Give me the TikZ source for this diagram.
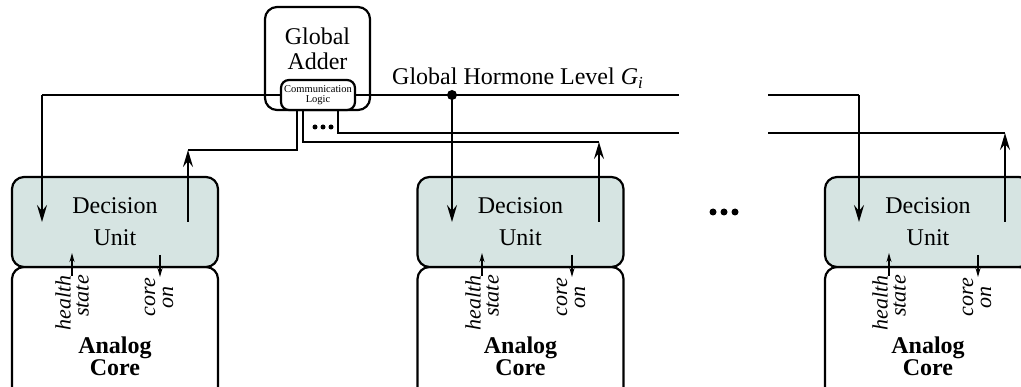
\documentclass[tikz,border=0pt]{standalone}
\usepackage{fontspec}
\setmainfont{Liberation Serif}
\usetikzlibrary{arrows.meta}
\definecolor{unitfill}{RGB}{214,228,226}
\begin{document}
\begin{tikzpicture}[x=1pt,y=-1pt,
  wire/.style={line width=2.2pt},
  feed/.style={line width=2.2pt,-{Stealth[length=17pt,width=10pt,inset=6pt]}},
  sig/.style={line width=1.5pt,-{Stealth[length=9pt,width=5pt,inset=3pt]}},
  unitbox/.style={draw,line width=2.2pt,fill=unitfill,rounded corners=12pt,
    minimum width=206pt,minimum height=90pt,inner sep=0pt,align=center,
    font=\fontsize{24}{32}\selectfont},
  corebox/.style={draw,line width=2.2pt,fill=white,rounded corners=12pt,
    minimum width=206pt,minimum height=150pt,inner sep=0pt},
  corelabel/.style={inner sep=0pt,align=center,font=\bfseries\fontsize{24}{22}\selectfont},
  portlabel/.style={inner sep=0pt,rotate=90,anchor=east,font=\itshape\fontsize{22}{18}\selectfont},
  bigdot/.style={circle,fill=black,inner sep=0pt,minimum size=7pt},
  smalldot/.style={circle,fill=black,inner sep=0pt,minimum size=5pt}
]
\useasboundingbox (0,0) rectangle (1021,387);
\clip (0,0) rectangle (1021,387);

% global adder with its communication logic
\node[draw,line width=2.2pt,rounded corners=12pt,minimum width=105pt,minimum height=103pt,inner sep=0pt] (adder) at (317.5,58.5) {};
\node[inner sep=0pt,align=center,font=\fontsize{24}{25}\selectfont] (addertext) at (317.5,48.5) {Global\\Adder};
\node[draw,line width=2.2pt,fill=white,rounded corners=8pt,minimum width=74pt,minimum height=30pt,inner sep=0pt,
  align=center,font=\fontsize{10.5}{10.5}\selectfont] (comm) at (318,95) {Communication\\Logic};
\node[smalldot] (cd1) at (315,127) {};
\node[smalldot] (cd2) at (323,127) {};
\node[smalldot] (cd3) at (331,127) {};

% analog cores (drawn first) and decision units
\node[corebox] (core1) at (115,342) {};
\node[corebox] (core2) at (520.5,342) {};
\node[corebox] (core3) at (928,342) {};
\node[unitbox] (du1) at (115,222) {Decision\\Unit};
\node[unitbox] (du2) at (520.5,222) {Decision\\Unit};
\node[unitbox] (du3) at (928,222) {Decision\\Unit};
\node[corelabel] (ac1) at (115,356) {Analog\\Core};
\node[corelabel] (ac2) at (520.5,356) {Analog\\Core};
\node[corelabel] (ac3) at (928,356) {Analog\\Core};

% hormone level bus
\node[anchor=base west,inner sep=0pt,font=\fontsize{24}{24}\selectfont] (glabel) at (392,85)
  {Global Hormone Level {\itshape G}\textsubscript{\itshape i}};
\coordinate (g1) at (42,95);
\coordinate (gEnd) at (679,95);
\coordinate (gR) at (768,95);
\coordinate (g3) at (859,95);
\node[bigdot,minimum size=10pt] (tap2) at (452,95) {};

\coordinate (du1in) at (42,222);
\coordinate (du2in) at (452,222);
\coordinate (du3in) at (859,222);
\coordinate (du1out) at (188,222);
\coordinate (du2out) at (599,222);
\coordinate (du3out) at (1005,222);

\draw[wire] (comm.west) -- (g1);
\draw[wire] (comm.east) -- (gEnd);
\draw[feed] (g1) -- (du1in);
\draw[feed] (tap2.center) -- (du2in);
\draw[wire] (gR) -- (g3);
\draw[feed] (g3) -- (du3in);

% return lines into the communication logic
\coordinate (b1) at (188,150);
\coordinate (b2) at (599,142);
\coordinate (b3) at (1005,133);
\coordinate (c1) at (297,150);
\coordinate (c2) at (303,142);
\coordinate (c3) at (338,133);
\coordinate (bEnd) at (679,133);
\coordinate (bR) at (768,133);

\draw[wire] (comm.south -| c1) -- (c1) -- (b1);
\draw[feed] (du1out) -- (b1);
\draw[wire] (comm.south -| c2) -- (c2) -- (b2);
\draw[feed] (du2out) -- (b2);
\draw[wire] (comm.south -| c3) -- (c3) -- (bEnd);
\draw[wire] (bR) -- (b3);
\draw[feed] (du3out) -- (b3);

% local signals between each core and its unit
\coordinate (hs1a) at (72,276); \coordinate (hs1b) at (72,253);
\coordinate (co1a) at (160,255); \coordinate (co1b) at (160,277);
\coordinate (hs2a) at (482,276); \coordinate (hs2b) at (482,253);
\coordinate (co2a) at (572,255); \coordinate (co2b) at (572,277);
\coordinate (hs3a) at (889,276); \coordinate (hs3b) at (889,253);
\coordinate (co3a) at (978,255); \coordinate (co3b) at (978,277);
\draw[sig] (hs1a) -- (hs1b);
\draw[sig] (co1a) -- (co1b);
\draw[sig] (hs2a) -- (hs2b);
\draw[sig] (co2a) -- (co2b);
\draw[sig] (hs3a) -- (hs3b);
\draw[sig] (co3a) -- (co3b);
\node[portlabel,align=right] (hl1) at (72,275) {health\\state};
\node[portlabel,align=center] (cl1) at (159,278) {core\\on};
\node[portlabel,align=right] (hl2) at (482,275) {health\\state};
\node[portlabel,align=center] (cl2) at (571,278) {core\\on};
\node[portlabel,align=right] (hl3) at (889,275) {health\\state};
\node[portlabel,align=center] (cl3) at (977,278) {core\\on};

% more units in between
\node[bigdot] (md1) at (713,212) {};
\node[bigdot] (md2) at (724,212) {};
\node[bigdot] (md3) at (735,212) {};
\end{tikzpicture}
\end{document}
